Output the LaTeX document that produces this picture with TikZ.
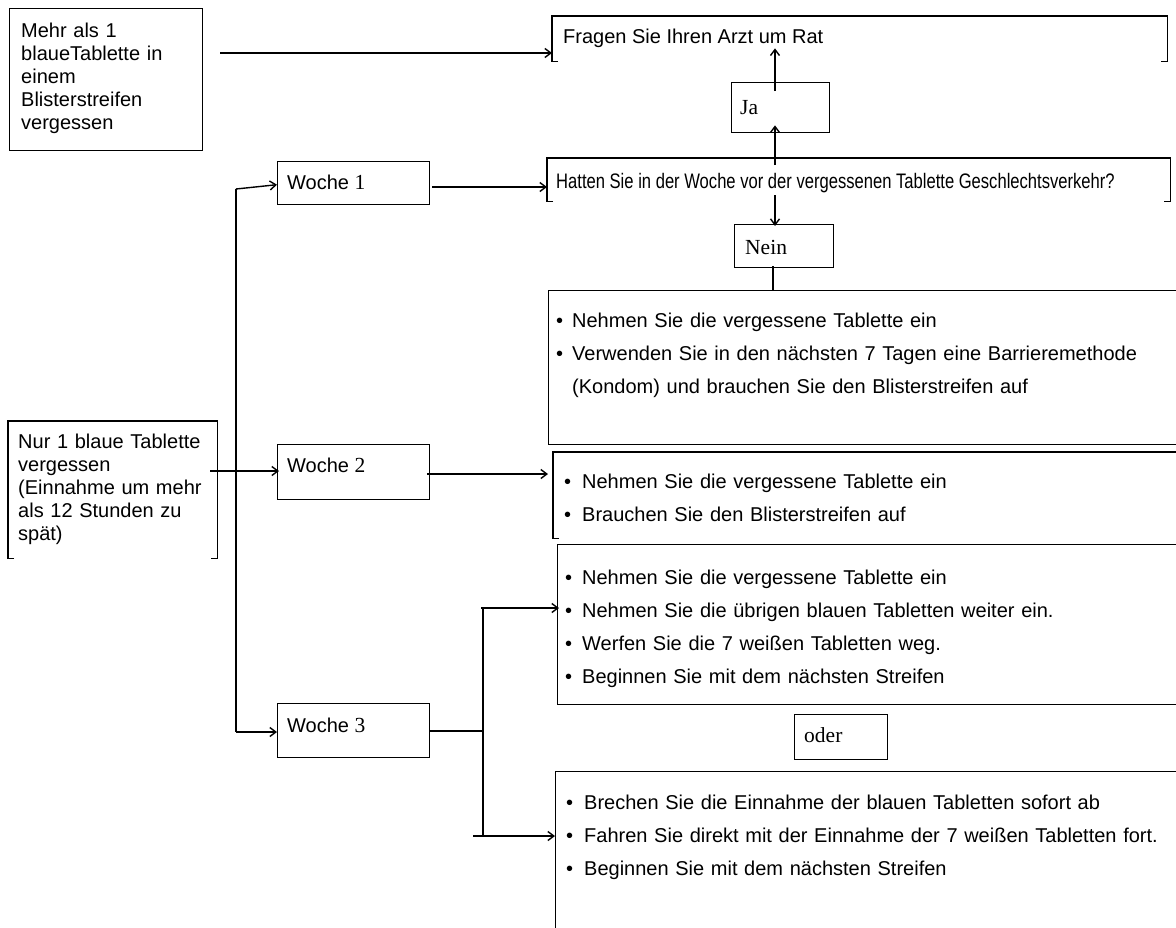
\documentclass[tikz,border=0pt]{standalone}
\usepackage{fontspec}
\setmainfont{Liberation Sans}
\newfontfamily\tnr{Liberation Serif}
\newfontfamily\narrowfont[FakeStretch=0.79]{Liberation Sans}
\usetikzlibrary{arrows.meta}
\begin{document}
\begin{tikzpicture}[x=1pt,y=-1pt,
  frame/.style={draw, line width=1.4pt, rectangle, inner sep=0pt, anchor=north west},
  shell/.style={rectangle, inner sep=0pt, anchor=north west},
  txt/.style={inner sep=0pt, anchor=base west, text width=260pt, align=left, font=\fontsize{20}{23}\selectfont},
  one/.style={inner sep=0pt, anchor=base west, font=\fontsize{20}{23}\selectfont},
  serif/.style={inner sep=0pt, anchor=base west, font=\fontsize{21.5}{24}\selectfont\tnr},
  list/.style={inner sep=0pt, anchor=base west, text width=640pt, align=left, font=\fontsize{20}{33}\selectfont},
  arr/.style={-{Straight Barb[length=6pt,width=9pt]}, line width=1.4pt},
  conn/.style={line width=1.4pt}]
\useasboundingbox (0,0) rectangle (1176,927);
\fill[white] (0,0) rectangle (1176,927);
\clip (0,0) rectangle (1176,927);

% ---- boxes ----
\node[frame, minimum width=193pt, minimum height=142pt] (boxA) at (9,8) {};
\node[shell, minimum width=615pt, minimum height=45pt] (fr) at (552,16) {};
\node[frame, minimum width=98pt, minimum height=50pt] (ja) at (731,82) {};
\node[shell, minimum width=623pt, minimum height=43pt] (hat) at (547,158) {};
\node[frame, minimum width=99pt, minimum height=43pt] (nein) at (734,224) {};
\node[frame, minimum width=700pt, minimum height=154pt] (boxB) at (548,290) {};
\node[shell, minimum width=700pt, minimum height=86pt] (boxD) at (553,452) {};
\node[frame, minimum width=700pt, minimum height=160pt] (boxE) at (557,544) {};
\node[frame, minimum width=93pt, minimum height=45pt] (oder) at (794,714) {};
\node[frame, minimum width=700pt, minimum height=300pt] (boxF) at (555,771) {};
\node[shell, minimum width=209pt, minimum height=137pt] (boxC) at (8,421) {};
\node[frame, minimum width=152pt, minimum height=43pt] (w1) at (277,161) {};
\node[frame, minimum width=152pt, minimum height=55pt] (w2) at (277,444) {};
\node[frame, minimum width=152pt, minimum height=54pt] (w3) at (277,703) {};

% bracket-style borders
\draw[conn] ([xshift=6pt]fr.south west) -- (fr.south west) -- (fr.north west) -- (fr.north east) -- (fr.south east) -- ([xshift=-6pt]fr.south east);
\draw[conn] ([xshift=6pt]hat.south west) -- (hat.south west) -- (hat.north west) -- (hat.north east) -- (hat.south east) -- ([xshift=-6pt]hat.south east);
\draw[conn] ([xshift=6pt]boxD.south west) -- (boxD.south west) -- (boxD.north west) -- (boxD.north east);
\draw[conn] ([xshift=6pt]boxC.south west) -- (boxC.south west) -- (boxC.north west) -- (boxC.north east) -- (boxC.south east) -- ([xshift=-6pt]boxC.south east);

% ---- texts ----
\node[txt] (tA) at ([shift={(12,29)}]boxA.north west) {Mehr als 1\\blaueTablette in\\einem\\Blisterstreifen\\vergessen};
\node[one] (tFr) at ([shift={(11,27)}]fr.north west) {Fragen Sie Ihren Arzt um Rat};
\node[serif] (tJa) at ([shift={(9,32)}]ja.north west) {Ja};
\node[one] (tHat) at ([shift={(9,30)}]hat.north west) {\fontsize{21}{24}\selectfont\narrowfont Hatten Sie in der Woche vor der vergessenen Tablette Geschlechtsverkehr?};
\node[serif] (tNein) at ([shift={(11,30)}]nein.north west) {Nein};
\node[list] (tB) at ([shift={(8,37)}]boxB.north west) {\makebox[16pt][l]{•}Nehmen Sie die vergessene Tablette ein\\\makebox[16pt][l]{•}Verwenden Sie in den nächsten 7 Tagen eine Barrieremethode\\\hspace*{16pt}(Kondom) und brauchen Sie den Blisterstreifen auf};
\node[list] (tD) at ([shift={(11,36)}]boxD.north west) {\makebox[18pt][l]{•}Nehmen Sie die vergessene Tablette ein\\\makebox[18pt][l]{•}Brauchen Sie den Blisterstreifen auf};
\node[list] (tE) at ([shift={(8,40)}]boxE.north west) {\makebox[17pt][l]{•}Nehmen Sie die vergessene Tablette ein\\\makebox[17pt][l]{•}Nehmen Sie die übrigen blauen Tabletten weiter ein.\\\makebox[17pt][l]{•}Werfen Sie die 7 weißen Tabletten weg.\\\makebox[17pt][l]{•}Beginnen Sie mit dem nächsten Streifen};
\node[serif] (tOder) at ([shift={(10,28)}]oder.north west) {oder};
\node[list] (tF) at ([shift={(11,38)}]boxF.north west) {\makebox[18pt][l]{•}Brechen Sie die Einnahme der blauen Tabletten sofort ab\\\makebox[18pt][l]{•}Fahren Sie direkt mit der Einnahme der 7 weißen Tabletten fort.\\\makebox[18pt][l]{•}Beginnen Sie mit dem nächsten Streifen};
\node[txt] (tC) at ([shift={(10,27)}]boxC.north west) {Nur 1 blaue Tablette\\vergessen\\(Einnahme um mehr\\als 12 Stunden zu\\spät)};
\node[one] (tW1) at ([shift={(10,28)}]w1.north west) {Woche {\fontsize{21.5}{24}\selectfont\tnr 1}};
\node[one] (tW2) at ([shift={(10,28)}]w2.north west) {Woche {\fontsize{21.5}{24}\selectfont\tnr 2}};
\node[one] (tW3) at ([shift={(10,29)}]w3.north west) {Woche {\fontsize{21.5}{24}\selectfont\tnr 3}};

% ---- connector points ----
\coordinate (aout) at (220,53);
\coordinate (jaup) at (775,91);
\coordinate (hatup) at (775,165);
\coordinate (hatdn) at (775,195);
\coordinate (neinx) at (773,0);
\coordinate (w1o) at (432,187);
\coordinate (vtop) at (236,189);
\coordinate (vbot) at (236,732);
\coordinate (cout) at (210,471);
\coordinate (w2o) at (427,474);
\coordinate (dentry) at ([xshift=-5pt]boxD.west);
\coordinate (rj) at (483,731);
\coordinate (rtop) at (483,608);
\coordinate (rbot) at (483,836);

% ---- connectors ----
\draw[arr] (aout) -- (aout -| fr.west);
\draw[arr] (jaup) -- ([yshift=-1pt]jaup |- tFr.south);
\draw[arr] (hatup) -- ([yshift=8pt]ja.south -| hatup);
\draw[arr] (hatdn) -- ([yshift=-2pt]nein.north -| hatdn);
\draw[conn] ([yshift=2pt]nein.south -| neinx) -- (boxB.north -| neinx);
\draw[arr] (w1o) -- (w1o -| hat.west);
\draw[conn] (vtop) -- (vbot);
\draw[arr] (vtop) -- ([yshift=-1.5pt]w1.west);
\draw[arr] (vbot) -- (vbot -| w3.west);
\draw[arr] (cout) -- ([xshift=2pt]cout -| w2.west);
\draw[arr] (w2o) -- (w2o -| dentry);
\draw[conn] (w3.east |- rj) -- (rj);
\draw[conn] (rtop) -- (rbot);
\draw[arr] ([xshift=-2pt]rtop) -- ([xshift=2pt]rtop -| boxE.west);
\draw[arr] ([xshift=-10pt]rbot) -- (rbot -| boxF.west);
\end{tikzpicture}
\end{document}
